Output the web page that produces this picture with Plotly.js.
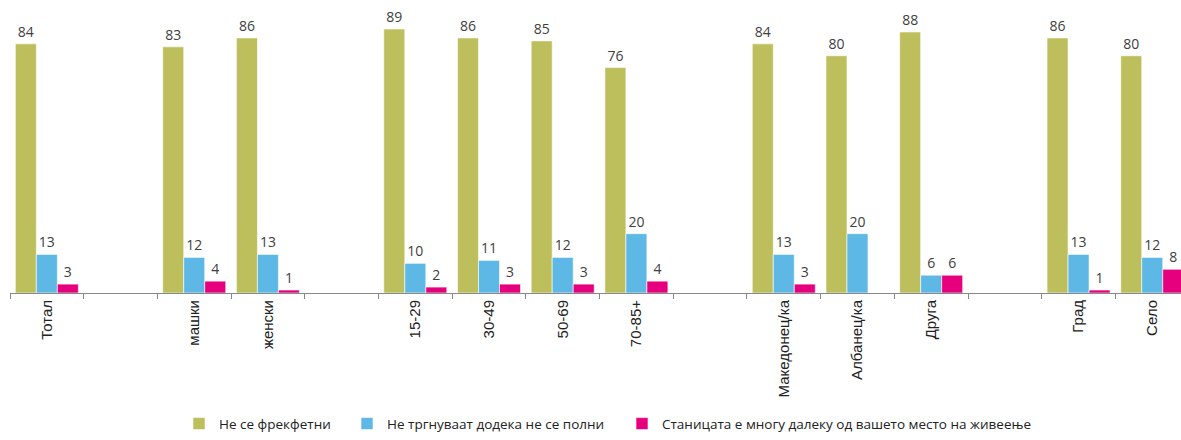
<!DOCTYPE html>
<html>
<head>
<meta charset="utf-8">
<script src="https://cdn.plot.ly/plotly-3.0.1.min.js"></script>
<style>html,body{margin:0;padding:0;background:#fff;}#chart{width:1181px;height:440px;}</style>
</head>
<body>
<div id="chart"></div>
<script>
const categories = ["Тотал", " ", "машки", "женски", "  ", "15-29", "30-49", "50-69", "70-85+", "   ", "Македонец/ка", "Албанец/ка", "Друга", "    ", "Град", "Село"];
const seriesNames = ["Не се фрекфетни", "Не тргнуваат додека не се полни", "Станицата е многу далеку од вашето место на живеење"];
const notFrequent = [84, null, 83, 86, null, 89, 86, 85, 76, null, 84, 80, 88, null, 86, 80];
const notUntilFull = [13, null, 12, 13, null, 10, 11, 12, 20, null, 13, 20, 6, null, 13, 12];
const stationFar = [3, null, 4, 1, null, 2, 3, 3, 4, null, 3, null, 6, null, 1, 8];
const colors = ["#BDBE5C", "#5DB8E6", "#E6007E"];

const labelFont = "'Open Sans', sans-serif";
const tickFont = "'Liberation Sans', Arial, sans-serif";
const allValues = [notFrequent, notUntilFull, stationFar];
const legendIds = ["legend", "legend2", "legend3"];
const traces = allValues.map((vals, i) => ({
  type: "bar",
  name: seriesNames[i],
  x: categories,
  y: vals,
  marker: {color: colors[i], line: {color: "rgba(255,255,255,0.6)", width: 1}},
  texttemplate: "%{y}",
  textposition: "outside",
  cliponaxis: false,
  textfont: {family: labelFont, size: 14, color: "#404040"},
  legend: legendIds[i],
  hoverinfo: "skip"
}));

const legendBase = {orientation: "h", yanchor: "bottom", xanchor: "left", y: -0.508,
  font: {family: labelFont, size: 13.5, color: "#222"}, bgcolor: "rgba(0,0,0,0)", itemwidth: 30, tracegroupgap: 0};

const layout = {
  width: 1181, height: 440,
  margin: {l: 10, r: 0, t: 5, b: 147, autoexpand: false},
  paper_bgcolor: "#fff", plot_bgcolor: "#fff",
  barmode: "group", bargap: 0.145, bargroupgap: 0,
  showlegend: true,
  xaxis: {type: "category", range: [-0.5, 15.39], tickson: "boundaries", ticks: "outside", ticklen: 5,
    tickcolor: "#888", showline: true, linecolor: "#888", linewidth: 1, tickangle: -90,
    tickfont: {family: tickFont, size: 15, color: "#222"}, showgrid: false, fixedrange: true, automargin: false},
  yaxis: {range: [0, 97.1], visible: false, showgrid: false, zeroline: false},
  legend: Object.assign({}, legendBase, {x: (179 - 10) / 1171}),
  legend2: Object.assign({}, legendBase, {x: (347 - 10) / 1171}),
  legend3: Object.assign({}, legendBase, {x: (622 - 10) / 1171})
};

Plotly.newPlot("chart", traces, layout, {displayModeBar: false, staticPlot: true});
</script>
</body>
</html>
